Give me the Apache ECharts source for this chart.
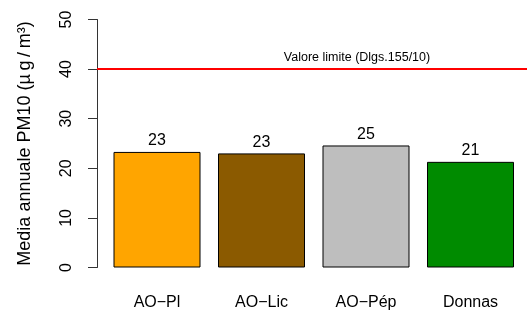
<!DOCTYPE html>
<html>
<head>
<meta charset="utf-8">
<script src="https://cdn.jsdelivr.net/npm/echarts@6/dist/echarts.min.js"></script>
<style>
  html, body { margin: 0; padding: 0; background: #fff; }
  #chart { width: 527px; height: 313px; }
</style>
</head>
<body>
<div id="chart"></div>
<script>
// stations and annual PM10 means (µg/m³)
const stations = ['AO\u2212Pl', 'AO\u2212Lic', 'AO\u2212P\u00e9p', 'Donnas']
const pm10 = [23.3, 23.0, 24.6, 21.3]
const limitValue = 40
const yTicks = [0, 10, 20, 30, 40, 50]

const barColors = ['#FFA500', '#8B5A00', '#BEBEBE', '#008B00']
const font = 'Liberation Sans, Arial, sans-serif'

const chart = echarts.init(document.getElementById('chart'))

const option = {
  animation: false,
  grid: {
    top: 19.5,
    bottom: 45.5,
    left: 104.75,
    right: 4.25
  },
  xAxis: {
    type: 'category',
    data: stations,
    axisLine: { show: false },
    axisTick: { show: false },
    axisLabel: {
      margin: 27,
      fontSize: 16,
      fontFamily: font,
      color: '#000'
    }
  },
  yAxis: {
    type: 'value',
    min: yTicks[0],
    max: yTicks[yTicks.length - 1],
    interval: 10,
    offset: 7.75,
    name: 'Media annuale PM10 (\u00b5\u2009g\u2009/\u2009m\u00b3)',
    nameLocation: 'middle',
    nameGap: 63,
    nameTextStyle: {
      fontSize: 18,
      fontFamily: font,
      color: '#000'
    },
    axisLine: {
      show: true,
      lineStyle: { color: '#333', width: 1 }
    },
    axisTick: {
      show: true,
      length: 9,
      lineStyle: { color: '#333' }
    },
    axisLabel: {
      rotate: 90,
      margin: 22,
      fontSize: 16,
      fontFamily: font,
      color: '#000'
    },
    splitLine: { show: false }
  },
  series: [
    {
      type: 'bar',
      barWidth: 87,
      data: pm10.map((v, i) => ({
        value: v,
        itemStyle: { color: barColors[i] }
      })),
      itemStyle: {
        borderColor: '#000',
        borderWidth: 1
      },
      label: {
        show: true,
        position: 'top',
        distance: 3,
        fontSize: 16,
        fontFamily: font,
        color: '#000',
        formatter: p => Math.round(p.value)
      },
      markLine: {
        silent: true,
        symbol: 'none',
        label: { show: false },
        lineStyle: { color: '#FF0000', width: 2, type: 'solid' },
        data: [[
          { yAxis: limitValue, x: 97 },
          { yAxis: limitValue, x: 527 }
        ]]
      }
    }
  ],
  graphic: [
    {
      type: 'text',
      x: 357,
      y: 58,
      style: {
        text: 'Valore limite (Dlgs.155/10)',
        fontSize: 12.5,
        fontFamily: font,
        fill: '#000',
        align: 'center',
        verticalAlign: 'middle'
      }
    }
  ]
}

chart.setOption(option)
</script>
</body>
</html>
